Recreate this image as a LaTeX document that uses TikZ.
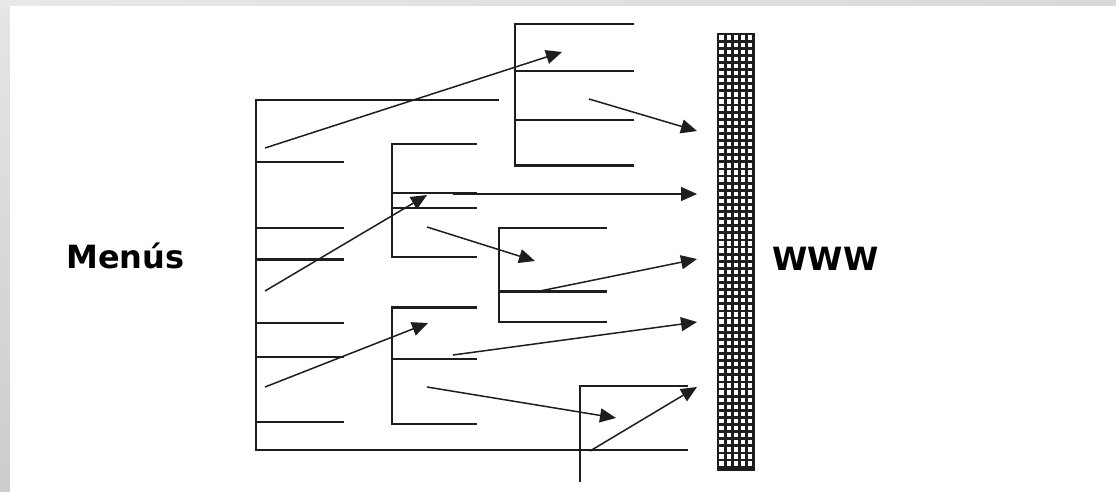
\documentclass[tikz,border=0pt]{standalone}
\usepackage{fontspec}
\setmainfont{DejaVu Sans}
\usetikzlibrary{arrows.meta}
\definecolor{ink}{HTML}{1E1E1E}
\tikzset{
  thinline/.style={draw=ink, line width=1.3pt},
  boldline/.style={draw=ink, line width=3pt},
  arr/.style={draw=ink, line width=1.5pt, -{Triangle[length=16pt,width=14pt]}},
  labeltext/.style={font=\fontsize{32}{36}\selectfont\bfseries, text=black, inner sep=0pt, anchor=base},
}
\begin{document}
\begin{tikzpicture}[x=1pt,y=-1pt]
\useasboundingbox (0,0) rectangle (1116,491);
% frame background
\fill[white] (0,0) rectangle (1116,491);
\shade[top color=white!90!black, bottom color=white!80!black] (0,0) rectangle (10,491);
\shade[left color=white!91!black, right color=white!85!black] (0,0) rectangle (1116,6);
\fill[white] (10,6) rectangle (1116,491);

% main menu tree
\draw[thinline] (499,100) -- (256,100) -- (256,450) -- (688,450);
\foreach \y in {162,228,323,357,422} \draw[thinline] (256,\y) -- (344,\y);
\draw[boldline] (256,259) -- (344,259);

% submenu 1
\draw[thinline] (477,144) -- (392,144) -- (392,257) -- (477,257);
\draw[thinline] (392,193) -- (477,193);
\draw[thinline] (392,208) -- (477,208);

% submenu 2
\draw[thinline] (392,307) -- (392,424) -- (477,424);
\draw[boldline] (391,307) -- (477,307);
\draw[thinline] (392,359) -- (477,359);

% submenu 3
\draw[thinline] (634,24) -- (515,24) -- (515,166);
\draw[thinline] (515,71) -- (634,71);
\draw[thinline] (515,120) -- (634,120);
\draw[boldline] (514,165) -- (634,165);

% submenu 4
\draw[thinline] (607,228) -- (499,228) -- (499,322) -- (607,322);
\draw[boldline] (499,291) -- (607,291);

% submenu 5
\draw[thinline] (688,386) -- (580,386) -- (580,482);

% WWW bar
\fill[white] (718,34) rectangle (754,470);
\begin{scope}
\clip (718,34) rectangle (754,470);
\foreach \i in {0,...,6} \draw[line width=2.8pt, ink] (718+\i*7.1,34) -- (718+\i*7.1,470);
\foreach \j in {0,...,62} \draw[line width=2.8pt, ink] (718,34+\j*7.1) -- (754,34+\j*7.1);
\end{scope}
\draw[ink, line width=1.6pt] (718,34) rectangle (754,470);

% arrow endpoints
\coordinate (a1s) at (265,148);  \coordinate (a1e) at (562,52);
\coordinate (a2s) at (589,99);   \coordinate (a2e) at (697,131);
\coordinate (a3s) at (453,194);  \coordinate (a3e) at (697,194);
\coordinate (a4s) at (265,291);  \coordinate (a4e) at (427,195);
\coordinate (a5s) at (427,227);  \coordinate (a5e) at (535,261);
\coordinate (a6s) at (540,291);  \coordinate (a6e) at (697,259);
\coordinate (a7s) at (265,387);  \coordinate (a7e) at (428,323);
\coordinate (a8s) at (453,355);  \coordinate (a8e) at (697,322);
\coordinate (a9s) at (427,387);  \coordinate (a9e) at (616,418);
\coordinate (a10s) at (590,451); \coordinate (a10e) at (697,387);
\foreach \k in {1,...,10} \draw[arr] (a\k s) -- (a\k e);

% labels
\node[labeltext] (menus) at (125.5,268) {Menús};
\node[labeltext] (www) at (825.5,270.5) {WWW};
\end{tikzpicture}
\end{document}
